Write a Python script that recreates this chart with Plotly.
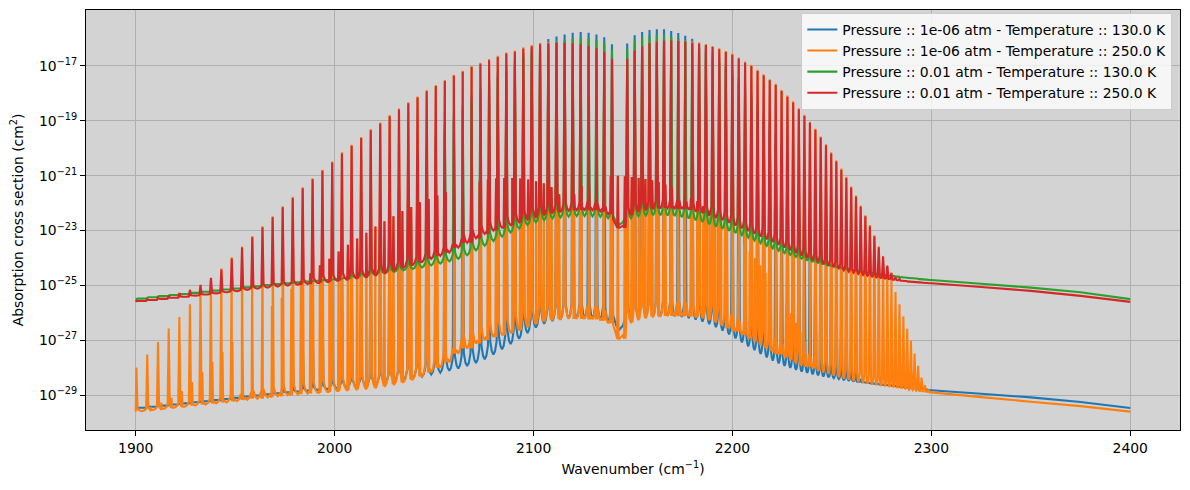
import plotly.graph_objects as go

# ---------------- data (log10 of cross section, cm^2) ----------------
X_START = 1900.0

# main-band line centres (P52 ... P1, R1 ... R56), cm^-1
MAIN_WN = [
    1900.35, 1905.79, 1911.20, 1916.58, 1921.93, 1927.25, 1932.55, 1937.82, 1943.06, 1948.27,
    1953.45, 1958.61, 1963.73, 1968.83, 1973.89, 1978.93, 1983.94, 1988.92, 1993.86, 1998.78,
    2003.67, 2008.53, 2013.35, 2018.15, 2022.92, 2027.65, 2032.35, 2037.03, 2041.67, 2046.28,
    2050.85, 2055.40, 2059.92, 2064.40, 2068.85, 2073.26, 2077.65, 2082.00, 2086.32, 2090.61,
    2094.86, 2099.08, 2103.27, 2107.42, 2111.54, 2115.63, 2119.68, 2123.70, 2127.68, 2131.63,
    2135.55, 2139.43,
    2147.08, 2150.85, 2154.59, 2158.30, 2161.97, 2165.60, 2169.20, 2172.76, 2176.28, 2179.77,
    2183.22, 2186.64, 2190.02, 2193.36, 2196.66, 2199.93, 2203.16, 2206.35, 2209.51, 2212.62,
    2215.70, 2218.75, 2221.75, 2224.71, 2227.64, 2230.53, 2233.37, 2236.18, 2238.95, 2241.69,
    2244.38, 2247.03, 2249.64, 2252.22, 2254.75, 2257.24, 2259.69, 2262.11, 2264.48, 2266.81,
    2269.10, 2271.35, 2273.56, 2275.72, 2277.85, 2279.93, 2281.97, 2283.97, 2285.93, 2287.85,
    2289.72, 2291.55, 2293.34, 2295.08, 2296.78, 2298.45,
]

# hot-band line centres (P46 ... P1, R1 ... R42), cm^-1
HOT_WN = [
    1907.58, 1912.82, 1918.02, 1923.20, 1928.34, 1933.47, 1938.55, 1943.62, 1948.64, 1953.65,
    1958.62, 1963.57, 1968.47, 1973.36, 1978.21, 1983.04, 1987.82, 1992.59, 1997.32, 2002.02,
    2006.68, 2011.33, 2015.93, 2020.51, 2025.04, 2029.56, 2034.04, 2038.49, 2042.90, 2047.28,
    2051.63, 2055.95, 2060.23, 2064.49, 2068.70, 2072.89, 2077.04, 2081.16, 2085.24, 2089.30,
    2093.31, 2097.30, 2101.24, 2105.16, 2109.04, 2112.89,
    2120.47, 2124.20, 2127.91, 2131.58, 2135.22, 2138.81, 2142.38, 2145.90, 2149.39, 2152.84,
    2156.26, 2159.64, 2162.99, 2166.29, 2169.56, 2172.79, 2175.99, 2179.14, 2182.27, 2185.34,
    2188.39, 2191.40, 2194.37, 2197.29, 2200.19, 2203.04, 2205.85, 2208.62, 2211.36, 2214.06,
    2216.72, 2219.33, 2221.91, 2224.45, 2226.95, 2229.40, 2231.82, 2234.20, 2236.54, 2238.83,
    2241.09, 2243.30,
]
HOT_PEAK_250K = [
    -29.44, -29.27, -29.10, -28.85, -28.52, -28.15, -27.79, -27.43, -27.06, -26.74,
    -26.39, -26.06, -25.75, -25.45, -25.12, -24.84, -24.56, -24.27, -24.03, -23.76,
    -23.52, -23.29, -23.08, -22.85, -22.66, -22.48, -22.29, -22.14, -21.97, -21.85,
    -21.72, -21.60, -21.48, -21.41, -21.29, -21.21, -21.14, -21.10, -21.08, -21.08,
    -21.10, -21.14, -21.20, -21.28, -21.41, -21.68,
    -21.68, -21.38, -21.22, -21.10, -21.05, -21.00, -21.00, -21.02, -21.05, -21.08,
    -21.12, -21.17, -21.24, -21.32, -21.42, -21.52, -21.66, -21.81, -21.93, -22.11,
    -22.27, -22.45, -22.62, -22.84, -23.05, -23.26, -23.51, -23.75, -24.00, -24.26,
    -24.54, -24.82, -25.12, -25.41, -25.71, -26.01, -26.36, -26.69, -27.06, -27.41,
    -27.77, -28.05,
]

N = None
BLUE_PEAK = [
    N, N, N, N, N, N, N, N, N, N,
    N, N, N, N, -28.43, -27.74, -27.05, -26.39, -25.76, -25.14,
    -24.51, -23.93, -23.37, -22.80, -22.29, -21.77, -21.28, -20.81, -20.37, -19.92,
    -19.51, -19.13, -18.75, -18.41, -18.07, -17.78, -17.49, -17.23, -16.97, -16.77,
    -16.53, -16.34, -16.17, -16.02, -15.93, -15.85, -15.79, -15.76, -15.79, -15.85,
    -15.95, -16.21,
    -16.18, -15.88, -15.76, -15.69, -15.66, -15.66, -15.73, -15.80, -15.90, -16.01,
    -16.15, -16.30, -16.48, -16.68, -16.91, -17.15, -17.43, -17.74, -18.03, -18.38,
    -18.73, -19.10, -19.47, -19.91, -20.34, -20.78, -21.27, -21.76, -22.26, -22.79,
    -23.35, -23.91, -24.51, -25.10, -25.72, -26.34, -27.02, -27.69, -28.41, N,
    N, N, N, N, N, N, N, N, N, N,
    N, N, N, N, N, N,
]
ORANGE_PEAK = [
    -27.99, -27.52, -27.06, -26.57, -26.15, -25.69, -25.25, -24.80, -24.38, -23.97,
    -23.58, -23.20, -22.84, -22.48, -22.11, -21.77, -21.42, -21.09, -20.78, -20.48,
    -20.15, -19.87, -19.59, -19.30, -19.06, -18.79, -18.55, -18.32, -18.11, -17.88,
    -17.69, -17.51, -17.32, -17.17, -17.00, -16.88, -16.75, -16.63, -16.51, -16.44,
    -16.32, -16.24, -16.17, -16.13, -16.11, -16.11, -16.13, -16.17, -16.23, -16.31,
    -16.44, -16.71,
    -16.71, -16.41, -16.25, -16.13, -16.08, -16.03, -16.03, -16.05, -16.08, -16.11,
    -16.15, -16.20, -16.27, -16.35, -16.45, -16.55, -16.69, -16.84, -16.96, -17.14,
    -17.30, -17.48, -17.65, -17.87, -18.08, -18.29, -18.54, -18.78, -19.03, -19.29,
    -19.57, -19.85, -20.15, -20.44, -20.74, -21.04, -21.39, -21.72, -22.09, -22.44,
    -22.80, -23.17, -23.57, -23.93, -24.33, -24.78, -25.24, -25.69, -26.13, -26.58,
    -27.02, -27.48, -27.93, -28.36, -28.64, -28.80,
]
GREEN_PEAK = [
    N, N, N, N, N, N, N, N, N, N,
    N, N, N, N, N, N, N, N, N, N,
    N, -24.05, -23.50, -22.96, -22.46, -21.96, -21.47, -21.01, -20.57, -20.12,
    -19.71, -19.33, -18.95, -18.61, -18.27, -17.98, -17.69, -17.43, -17.17, -16.97,
    -16.73, -16.54, -16.37, -16.22, -16.13, -16.05, -15.99, -15.96, -15.99, -16.05,
    -16.15, -16.41,
    -16.38, -16.08, -15.96, -15.89, -15.86, -15.86, -15.93, -16.00, -16.10, -16.21,
    -16.35, -16.50, -16.68, -16.88, -17.11, -17.35, -17.63, -17.94, -18.23, -18.58,
    -18.93, -19.30, -19.67, -20.11, -20.54, -20.98, -21.47, -21.96, -22.45, -22.95,
    -23.45, -23.90, N, N, N, N, N, N, N, N,
    N, N, N, N, N, N, N, N, N, N,
    N, N, N, N, N, N,
]
RED_PEAK = [
    -25.56, -25.50, -25.44, -25.37, -25.28, -25.16, -24.98, -24.72, -24.42, -24.02,
    -23.62, -23.24, -22.88, -22.52, -22.15, -21.81, -21.46, -21.13, -20.82, -20.52,
    -20.19, -19.91, -19.63, -19.34, -19.10, -18.83, -18.59, -18.36, -18.15, -17.92,
    -17.73, -17.55, -17.36, -17.21, -17.04, -16.92, -16.79, -16.67, -16.55, -16.48,
    -16.36, -16.28, -16.21, -16.17, -16.15, -16.15, -16.17, -16.21, -16.27, -16.35,
    -16.48, -16.75,
    -16.75, -16.45, -16.29, -16.17, -16.12, -16.07, -16.07, -16.09, -16.12, -16.15,
    -16.19, -16.24, -16.31, -16.39, -16.49, -16.59, -16.73, -16.88, -17.00, -17.18,
    -17.34, -17.52, -17.69, -17.91, -18.12, -18.33, -18.58, -18.82, -19.07, -19.33,
    -19.61, -19.89, -20.19, -20.48, -20.78, -21.08, -21.43, -21.76, -22.13, -22.48,
    -22.84, -23.21, -23.61, -23.95, -24.28, -24.54, -24.70, -24.76, N, N,
    N, N, N, N, N, N,
]

# minimum between neighbouring main lines (one value per gap)
BLUE_TROUGH = [
    -29.46, -29.42, -29.38, -29.34, -29.30, -29.26, -29.22, -29.18, -29.14, -29.10,
    -29.05, -29.01, -28.97, -28.93, -28.90, -28.87, -28.84, -28.81, -28.78, -28.75,
    -28.72, -28.69, -28.65, -28.61, -28.56, -28.50, -28.44, -28.38, -28.32, -28.25,
    -28.18, -28.11, -28.03, -27.94, -27.83, -27.69, -27.52, -27.33, -27.14, -26.95,
    -26.74, -26.54, -26.40, -26.30, -26.24, -26.20, -26.18, -26.18, -26.20, -26.24,
    -26.32, -26.60, -26.28, -26.18, -26.14, -26.12, -26.11, -26.11, -26.12, -26.15,
    -26.19, -26.25, -26.32, -26.41, -26.52, -26.65, -26.79, -26.93, -27.08, -27.22,
    -27.36, -27.50, -27.62, -27.74, -27.84, -27.93, -28.01, -28.08, -28.14, -28.19,
    -28.24, -28.28, -28.32, -28.35, -28.38, -28.41, -28.44, -28.46, -28.49, -28.51,
    -28.53, -28.55, -28.57, -28.59, -28.61, -28.63, -28.64, -28.66, -28.68, -28.69,
    -28.71, -28.72, -28.74, -28.75, -28.77, -28.78, -28.80,
]
ORANGE_TROUGH = [
    -29.58, -29.54, -29.50, -29.46, -29.42, -29.38, -29.34, -29.30, -29.26, -29.22,
    -29.17, -29.13, -29.08, -29.04, -29.00, -28.97, -28.94, -28.91, -28.88, -28.85,
    -28.82, -28.79, -28.76, -28.72, -28.67, -28.61, -28.53, -28.43, -28.31, -28.17,
    -28.00, -27.80, -27.48, -27.30, -27.12, -26.99, -26.88, -26.80, -26.72, -26.62,
    -26.50, -26.39, -26.30, -26.25, -26.23, -26.22, -26.22, -26.22, -26.24, -26.28,
    -26.38, -26.94, -26.35, -26.24, -26.18, -26.14, -26.12, -26.11, -26.11, -26.12,
    -26.13, -26.15, -26.18, -26.24, -26.33, -26.44, -26.56, -26.68, -26.80, -26.92,
    -27.04, -27.16, -27.28, -27.40, -27.51, -27.62, -27.72, -27.81, -27.89, -27.96,
    -28.03, -28.10, -28.17, -28.23, -28.29, -28.35, -28.40, -28.44, -28.48, -28.52,
    -28.55, -28.58, -28.61, -28.64, -28.66, -28.68, -28.70, -28.72, -28.74, -28.76,
    -28.78, -28.80, -28.82, -28.84, -28.85, -28.86, -28.88,
]
GREEN_TROUGH = [
    -25.48, -25.43, -25.39, -25.35, -25.31, -25.27, -25.23, -25.19, -25.15, -25.11,
    -25.07, -25.03, -24.99, -24.95, -24.92, -24.89, -24.86, -24.83, -24.80, -24.77,
    -24.73, -24.69, -24.65, -24.60, -24.55, -24.50, -24.45, -24.40, -24.34, -24.27,
    -24.20, -24.12, -24.03, -23.90, -23.72, -23.55, -23.38, -23.22, -23.07, -22.93,
    -22.80, -22.70, -22.62, -22.56, -22.52, -22.49, -22.47, -22.47, -22.48, -22.50,
    -22.55, -22.78, -22.55, -22.48, -22.45, -22.44, -22.44, -22.45, -22.47, -22.51,
    -22.56, -22.62, -22.69, -22.77, -22.85, -22.93, -23.01, -23.09, -23.17, -23.26,
    -23.36, -23.46, -23.56, -23.65, -23.74, -23.82, -23.89, -23.96, -24.02, -24.08,
    -24.13, -24.18, -24.22, -24.26, -24.30, -24.34, -24.38, -24.41, -24.44, -24.47,
    -24.50, -24.53, -24.56, -24.58, -24.60, -24.62, -24.64, -24.66, -24.68, -24.70,
    -24.71, -24.73, -24.74, -24.75, -24.77, -24.78, -24.79,
]
RED_TROUGH = [
    -25.57, -25.53, -25.49, -25.45, -25.41, -25.37, -25.33, -25.29, -25.25, -25.21,
    -25.16, -25.12, -25.08, -25.04, -25.01, -24.98, -24.95, -24.91, -24.87, -24.83,
    -24.79, -24.75, -24.70, -24.63, -24.55, -24.45, -24.35, -24.25, -24.14, -24.03,
    -23.92, -23.80, -23.62, -23.45, -23.28, -23.12, -23.00, -22.90, -22.80, -22.70,
    -22.60, -22.50, -22.42, -22.36, -22.31, -22.28, -22.26, -22.25, -22.26, -22.30,
    -22.40, -22.90, -22.42, -22.30, -22.24, -22.20, -22.18, -22.18, -22.19, -22.21,
    -22.24, -22.29, -22.35, -22.43, -22.52, -22.62, -22.72, -22.82, -22.92, -23.02,
    -23.12, -23.22, -23.32, -23.42, -23.52, -23.62, -23.72, -23.82, -23.91, -24.00,
    -24.08, -24.15, -24.22, -24.28, -24.34, -24.40, -24.45, -24.50, -24.54, -24.58,
    -24.62, -24.65, -24.68, -24.71, -24.73, -24.75, -24.77, -24.79, -24.81, -24.83,
    -24.84, -24.86, -24.87, -24.88, -24.89, -24.90, -24.91,
]

# continuum at the start (1900 cm^-1) and beyond the band
BLUE_HEAD, ORANGE_HEAD, GREEN_HEAD, RED_HEAD = -29.48, -29.60, -25.51, -25.60
TAIL_WN = [2300, 2325, 2350, 2375, 2400]
BLUE_TAIL = [-28.82, -28.95, -29.08, -29.25, -29.47]
ORANGE_TAIL = [-28.90, -29.07, -29.24, -29.40, -29.60]
GREEN_TAIL = [-24.80, -24.94, -25.08, -25.25, -25.50]
RED_TAIL = [-24.92, -25.06, -25.20, -25.38, -25.60]

Y_TICK_EXP = [-29, -27, -25, -23, -21, -19, -17]
X_TICKS = [1900, 2000, 2100, 2200, 2300, 2400]

LABELS = [
    "Pressure :: 1e-06 atm - Temperature :: 130.0 K",
    "Pressure :: 1e-06 atm - Temperature :: 250.0 K",
    "Pressure :: 0.01 atm - Temperature :: 130.0 K",
    "Pressure :: 0.01 atm - Temperature :: 250.0 K",
]
COLORS = ["#1f77b4", "#ff7f0e", "#2ca02c", "#d62728"]

# drawing style of each line profile
HALF_W = 0.55        # cm^-1, half base of a main-line spike
HOT_HALF_W = 0.35    # cm^-1, half base of a hot-band spike
SCALLOP = 0.05       # rounding of the gap between lines (fraction of spike height)
LINE_W = 2.1         # px (1.5 pt)


def build(peaks, troughs, head, tail, with_hot):
    n = len(MAIN_WN)
    pts = [(X_START, head), (max(MAIN_WN[0] - HALF_W, X_START), head)]
    vis = []
    for i, x in enumerate(MAIN_WN):
        tl = head if i == 0 else troughs[i - 1]
        tr = troughs[i] if i < n - 1 else tail[0]
        p = peaks[i]
        ok = p is not None and p > max(tl, tr)
        vis.append(p if ok else None)
        if ok:
            pts.append((x, p))
    pts.append((MAIN_WN[-1] + HALF_W, tail[0]))
    # rounded gaps between neighbouring lines
    for k in range(n - 1):
        t = troughs[k]
        a, b = vis[k], vis[k + 1]
        d = SCALLOP * (min(a, b) - t) if (a is not None and b is not None) else 0.0
        xl, xr = MAIN_WN[k] + HALF_W, MAIN_WN[k + 1] - HALF_W
        xm = 0.5 * (xl + xr)
        pts += [(xl, t + d), (0.5 * (xl + xm), t + 0.25 * d), (xm, t),
                (0.5 * (xm + xr), t + 0.25 * d), (xr, t + d)]
    if with_hot:
        for h, hp in zip(HOT_WN, HOT_PEAK_250K):
            k = max(j for j, x in enumerate(MAIN_WN) if x < h)
            t = troughs[k]
            if hp > t:
                pts += [(h - HOT_HALF_W, t), (h, hp), (h + HOT_HALF_W, t)]
    pts += list(zip(TAIL_WN, tail))
    pts.sort(key=lambda q: q[0])
    return [q[0] for q in pts], [10.0 ** q[1] for q in pts]


series = [
    (BLUE_PEAK, BLUE_TROUGH, BLUE_HEAD, BLUE_TAIL, False),
    (ORANGE_PEAK, ORANGE_TROUGH, ORANGE_HEAD, ORANGE_TAIL, True),
    (GREEN_PEAK, GREEN_TROUGH, GREEN_HEAD, GREEN_TAIL, False),
    (RED_PEAK, RED_TROUGH, RED_HEAD, RED_TAIL, True),
]

fig = go.Figure()
for (pk, tr, hd, tl, hot), lab, col in zip(series, LABELS, COLORS):
    xs, ys = build(pk, tr, hd, tl, hot)
    fig.add_trace(go.Scatter(x=xs, y=ys, mode="lines", name=lab,
                             line=dict(color=col, width=LINE_W, simplify=False)))

FONT = "DejaVu Sans"
FS = 13.9
fig.update_layout(
    width=1190, height=490,
    margin=dict(l=86, r=10, t=10, b=60),
    paper_bgcolor="white",
    plot_bgcolor="#d3d3d3",
    font=dict(family=FONT, size=FS, color="black"),
    showlegend=True,
    legend=dict(
        x=0.993, y=0.993, xanchor="right", yanchor="top",
        bgcolor="rgba(255,255,255,0.8)", bordercolor="#cccccc", borderwidth=1,
        font=dict(family=FONT, size=FS),
        tracegroupgap=0,
    ),
)
fig.update_xaxes(
    range=[1875, 2425], tickvals=X_TICKS, ticktext=[str(v) for v in X_TICKS],
    showgrid=True, gridcolor="#b0b0b0", gridwidth=1.1,
    showline=True, linecolor="black", linewidth=1.1, mirror=True,
    ticks="outside", ticklen=5, tickcolor="black", zeroline=False,
    title=dict(text="Wavenumber (cm<sup>−1</sup>)", font=dict(size=FS), standoff=9),
)
fig.update_yaxes(
    type="log", range=[-30.27, -14.96],
    tickvals=[10.0 ** e for e in Y_TICK_EXP],
    ticktext=["10<sup>−%d</sup>" % (-e) for e in Y_TICK_EXP],
    showgrid=True, gridcolor="#b0b0b0", gridwidth=1.1,
    showline=True, linecolor="black", linewidth=1.1, mirror=True,
    ticks="outside", ticklen=5, tickcolor="black", zeroline=False,
    title=dict(text="Absorption cross section (cm<sup>2</sup>)", font=dict(size=FS), standoff=12),
)

fig.write_html("out.html")
